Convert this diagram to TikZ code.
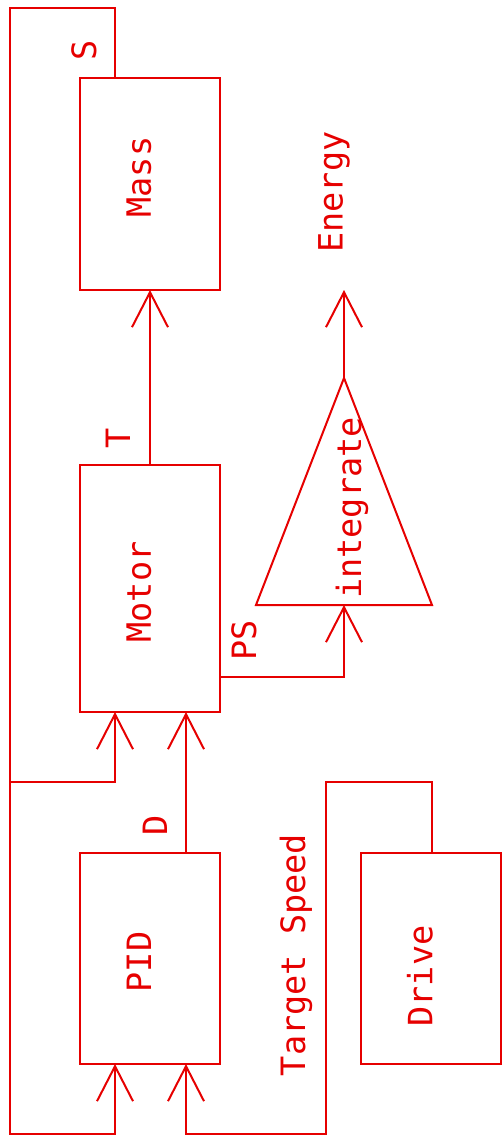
\documentclass[tikz,border=0pt]{standalone}
\usepackage{fontspec}
\newfontfamily\hfont{DejaVu Sans Mono}
\usetikzlibrary{arrows.meta}
\definecolor{lc}{RGB}{230,0,0}
\tikzset{
  wire/.style={draw=lc, line width=2pt},
  arr/.style={wire, -{Straight Barb[length=35pt, width=36pt, line width=2pt]}},
  blk/.style={draw=lc, line width=2pt, rectangle, inner sep=0pt, outer sep=0pt, minimum width=140pt, anchor=north west},
  txt/.style={text=lc, font=\hfont\fontsize{33.5}{36}\selectfont, rotate=90, inner sep=0pt},
}
\begin{document}
\begin{tikzpicture}[x=1pt, y=-1pt]
\useasboundingbox (0,0) rectangle (503,1136);
% blocks
\node[blk, minimum height=212pt] (mass) at (80,78) {};
\node[blk, minimum height=247pt] (motor) at (80,465) {};
\node[blk, minimum height=211pt] (pid) at (80,853) {};
\node[blk, minimum height=211pt] (drive) at (361,853) {};
% triangle
\coordinate (tl) at (256,605);
\coordinate (tr) at (432,605);
\coordinate (apex) at (344,378);
\coordinate (tbase) at (344,605);
\draw[wire, line join=miter] (tl) -- (tr) -- (apex) -- cycle;
\coordinate (energy) at (344,290);
% labels
\node[txt] (lmass) at (139,177) {Mass};
\node[txt] (lmotor) at (139,592) {Motor};
\node[txt] (lpid) at (139,962) {PID};
\node[txt] (ldrive) at (420,976) {Drive};
\node[txt] (lint) at (352,508) {integrate};
\node[txt] (lenergy) at (334,192) {Energy};
\node[txt] (ls) at (84,50) {S};
\node[txt] (lt) at (118,438) {T};
\node[txt] (lps) at (244,640) {PS};
\node[txt] (ld) at (155,825) {D};
\node[txt] (ltarget) at (296,955) {Target Speed};
% connectors
\coordinate (m1) at (115,8);
\coordinate (m2) at (10,8);
\coordinate (m3) at (10,1134);
\coordinate (m4) at (115,1134);
\coordinate (br) at (10,782);
\coordinate (br2) at (115,782);
\coordinate (d1) at (432,782);
\coordinate (d2) at (326,782);
\coordinate (d3) at (326,1134);
\coordinate (d4) at (186,1134);
\coordinate (p1) at (344,677);
\draw[arr] (motor.north) -- (mass.south);
\draw[arr, line join=miter] (mass.north west -| m1) -- (m1) -- (m2) -- (m3) -- (m4) -- (m4 |- pid.south);
\draw[arr, line join=miter] (br) -- (br2) -- (br2 |- motor.south);
\draw[arr] (pid.north west -| d4) -- (d4 |- motor.south);
\draw[arr, line join=miter] (drive.north west -| d1) -- (d1) -- (d2) -- (d3) -- (d4) -- (d4 |- pid.south);
\draw[arr, line join=miter] (motor.east |- p1) -- (p1) -- (tbase);
\draw[arr] (apex) -- (energy);
\end{tikzpicture}
\end{document}
